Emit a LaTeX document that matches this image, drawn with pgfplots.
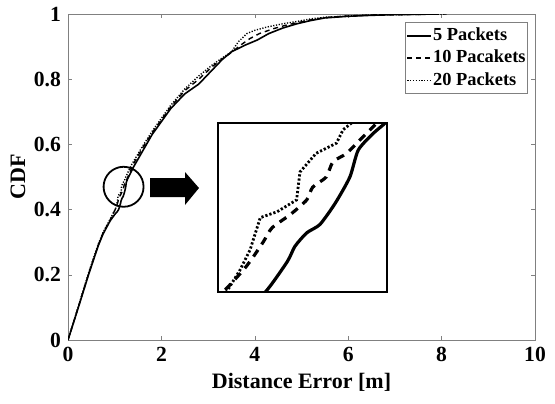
\documentclass[border=0pt]{standalone}
\usepackage{fontspec}
\setmainfont{Liberation Serif}
\usepackage{pgfplots}
\usepackage{pgfplotstable}
\pgfplotsset{compat=1.18}

% CDF of distance error, 5 packets
\pgfplotstableread{
x y
0 0
0.1 0.045
0.2 0.09
0.32 0.145
0.45 0.205
0.52 0.235
0.65 0.29
0.75 0.325
0.9 0.365
1.0 0.385
1.05 0.393
1.084 0.400
1.123 0.418
1.1365 0.427
1.1575 0.435
1.181 0.440
1.208 0.4525
1.234 0.468
1.249 0.484
1.276 0.494
1.297 0.500
1.4 0.53
1.6 0.58
1.8 0.63
2.0 0.67
2.2 0.71
2.5 0.755
2.8 0.785
3.1 0.83
3.3 0.86
3.5 0.884
3.8 0.905
4.05 0.92
4.3 0.94
4.6 0.957
4.9 0.97
5.2 0.98
5.5 0.988
6.0 0.993
6.5 0.996
7.0 0.998
7.5 0.999
7.9 1.0
}\fivepk

% 10 packets
\pgfplotstableread{
x y
0 0
0.1 0.046
0.2 0.092
0.32 0.147
0.45 0.207
0.52 0.237
0.65 0.292
0.75 0.328
0.9 0.368
0.97 0.388
1.009 0.400
1.045 0.413
1.063 0.421
1.081 0.430
1.096 0.438
1.129 0.446
1.1575 0.4545
1.168 0.462
1.192 0.468
1.204 0.477
1.228 0.482
1.258 0.492
1.282 0.500
1.4 0.54
1.6 0.59
1.8 0.635
2.0 0.675
2.2 0.715
2.5 0.765
2.8 0.80
3.1 0.84
3.3 0.862
3.5 0.882
3.7 0.905
3.9 0.925
4.1 0.94
4.4 0.955
4.7 0.967
5.0 0.976
5.3 0.985
5.6 0.99
6.0 0.994
6.5 0.997
7.0 0.998
7.5 0.999
8.1 1.0
}\tenpk

% 20 packets
\pgfplotstableread{
x y
0 0
0.1 0.047
0.2 0.093
0.32 0.15
0.45 0.21
0.52 0.24
0.65 0.295
0.75 0.33
0.9 0.37
0.97 0.39
1.015 0.400
1.039 0.413
1.057 0.425
1.075 0.444
1.105 0.4475
1.1395 0.4545
1.1455 0.471
1.174 0.482
1.21 0.488
1.222 0.496
1.237 0.500
1.35 0.535
1.6 0.595
1.8 0.64
2.0 0.68
2.2 0.72
2.5 0.77
2.8 0.81
3.1 0.845
3.3 0.865
3.5 0.884
3.65 0.915
3.83 0.94
4.0 0.95
4.26 0.96
4.6 0.97
4.9 0.977
5.2 0.985
5.5 0.99
6.0 0.994
6.5 0.997
7.0 0.998
7.5 0.999
8.1 1.0
}\twentypk

\begin{document}
\begin{tikzpicture}
\path[use as bounding box] (-34pt,-31.5pt) rectangle (243.5pt,170pt);

\begin{axis}[
    scale only axis,
    width=233.5pt, height=163pt,
    xmin=0, xmax=10, ymin=0, ymax=1,
    xtick={0,2,4,6,8,10},
    ytick={0,0.2,0.4,0.6,0.8,1},
    tick align=inside,
    major tick length=2pt,
    axis line style={gray},
    tick style={gray},
    /pgf/number format/assume math mode=true,
    every tick label/.append style={font=\fontsize{10.8}{12}\selectfont\bfseries, black},
    xlabel={Distance Error [m]},
    ylabel={CDF},
    label style={font=\fontsize{11}{13}\selectfont\bfseries},
    xlabel style={at={(axis description cs:0.5,-0.129)}, anchor=center},
    ylabel style={at={(axis description cs:-0.107,0.5)}, anchor=center},
    legend style={at={(0.985,0.975)}, anchor=north east, draw=gray,
        font=\fontsize{9.2}{11}\selectfont\bfseries,
        inner xsep=0.5pt, inner ysep=1pt, row sep=0pt,
        nodes={inner xsep=0.5pt, inner ysep=1pt, text height=7pt, text depth=2.2pt}},
    legend cell align=left,
    legend image code/.code={\draw[#1] (0pt,0pt) -- (12pt,0pt);},
]
\addplot[black, line width=0.8pt] table {\fivepk};
\addplot[black, line width=0.7pt, dash pattern=on 2.5pt off 2pt] table {\tenpk};
\addplot[black, line width=0.7pt, dash pattern=on 0.6pt off 0.8pt] table {\twentypk};
\legend{5 Packets, 10 Pacakets, 20 Packets}
\draw[line width=0.9pt] (axis cs:1.19,0.47) circle[radius=10pt];
\end{axis}

% zoomed view of the circled region
\begin{axis}[
    at={(75pt,24pt)}, anchor=south west,
    scale only axis,
    width=84.5pt, height=84.5pt,
    xmin=1.0, xmax=1.3, ymin=0.4, ymax=0.5,
    ticks=none,
    axis line style={black, line width=0.6pt},
]
\addplot[black, line width=1.6pt, smooth, tension=0.4] table {\fivepk};
\addplot[black, line width=1.6pt, dash pattern=on 4pt off 3.3pt, smooth, tension=0.4] table {\tenpk};
\addplot[black, line width=1.4pt, dash pattern=on 1.1pt off 1pt] table {\twentypk};
\end{axis}

\fill (41pt,71.5pt) -- (58.5pt,71.5pt) -- (58.5pt,67.5pt) -- (65.5pt,76pt)
    -- (58.5pt,84pt) -- (58.5pt,81pt) -- (41pt,81pt) -- cycle;
\end{tikzpicture}
\end{document}
